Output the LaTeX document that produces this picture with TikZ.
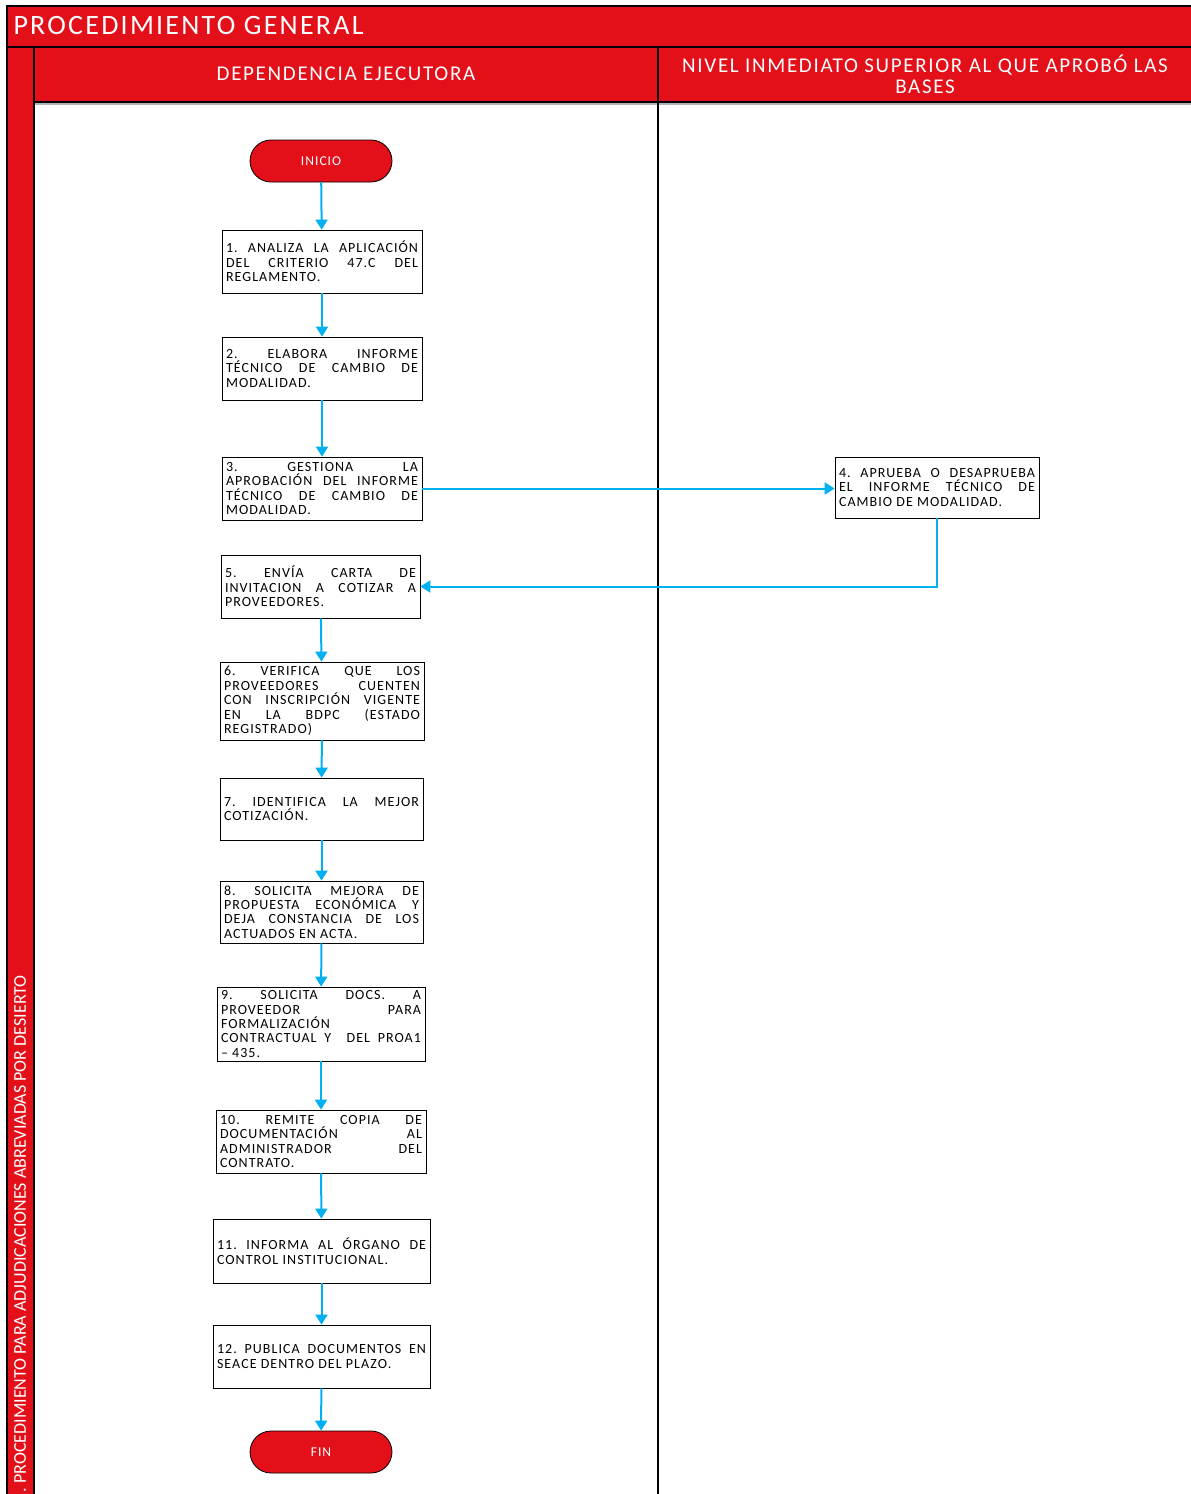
\documentclass[tikz,border=0pt]{standalone}
\usepackage{fontspec}
\setmainfont{Carlito}
\newfontfamily\boxfont[LetterSpace=7.5]{Carlito}
\newfontfamily\headfont[LetterSpace=8]{Carlito}
\usetikzlibrary{arrows.meta}
\definecolor{LaneClr}{HTML}{E3101A}
\definecolor{FlowClr}{HTML}{00B0F0}
\hyphenpenalty=10000
\exhyphenpenalty=10000
\tolerance=10000
\hbadness=10000
\frenchspacing

\begin{document}
\begin{tikzpicture}[x=1pt,y=-1pt,
  stepbox/.style={draw,line width=0.8pt,fill=white,inner xsep=4pt,inner ysep=2pt,
    align=justify,font=\boxfont\fontsize{14}{14.4}\selectfont},
  endbox/.style={draw=black,line width=0.8pt,fill=LaneClr,rounded corners=21pt,
    minimum width=142pt,minimum height=42pt,text=white,
    font=\boxfont\fontsize{13.5}{15}\selectfont},
  headtext/.style={text=white,font=\headfont\fontsize{21}{21}\selectfont},
  flow/.style={FlowClr,line width=2pt,-{Triangle[length=10pt,width=12pt]}}]
\useasboundingbox (0,0) rectangle (1191,1494);

% lanes
\fill[LaneClr] (7,6) rectangle (1191,47);
\fill[LaneClr] (7,47) rectangle (34,1494);
\fill[LaneClr] (34,47) rectangle (1191,102);
\draw[gray!60,line width=2pt] (35,104) -- (1191,104);
\draw[line width=1.5pt] (1191,6) -- (7,6) -- (7,1494);
\draw[line width=1.5pt] (7,47) -- (1191,47);
\draw[line width=1.5pt] (34,47) -- (34,1494);
\draw[line width=1.5pt] (34,102) -- (1191,102);
\draw[line width=1.5pt] (658,47) -- (658,1494);

\node[headtext,anchor=west,font=\headfont\fontsize{28}{28}\selectfont] (title) at (10,26) {PROCEDIMIENTO GENERAL};
\node[headtext] (laneA) at (346,74) {DEPENDENCIA EJECUTORA};
\node[headtext,align=center] (laneB) at (925,74) {NIVEL INMEDIATO SUPERIOR AL QUE APROBÓ LAS\\BASES};
\begin{scope}
\clip (7,47) rectangle (34,1494);
\node[text=white,rotate=90,anchor=east,inner sep=0pt,font=\fontsize{18}{20}\selectfont] (proc) at (20,975)
  {. PROCEDIMIENTO PARA ADJUDICACIONES ABREVIADAS POR DESIERTO};
\end{scope}

% steps
\node[endbox] (ini) at (321,161) {INICIO};
\node[stepbox,text width=192pt,minimum height=63pt] (b1) at (322,261.5)
  {1. ANALIZA LA APLICACIÓN\linebreak DEL CRITERIO 47.C DEL\linebreak REGLAMENTO.};
\node[stepbox,text width=192pt,minimum height=63pt] (b2) at (322,368.5)
  {2. ELABORA INFORME\linebreak TÉCNICO DE CAMBIO DE\linebreak MODALIDAD.};
\node[stepbox,text width=192pt,minimum height=63pt] (b3) at (322,488.5)
  {3. GESTIONA LA\linebreak APROBACIÓN DEL INFORME\linebreak TÉCNICO DE CAMBIO DE\linebreak MODALIDAD.};
\node[stepbox,text width=196pt,minimum height=61pt] (b4) at (937,487.5)
  {4. APRUEBA O DESAPRUEBA\linebreak EL INFORME TÉCNICO DE\linebreak CAMBIO DE MODALIDAD.};
\node[stepbox,text width=191pt,minimum height=63pt] (b5) at (320.5,586.5)
  {5. ENVÍA CARTA DE\linebreak INVITACION A COTIZAR A\linebreak PROVEEDORES.};
\node[stepbox,text width=196pt,minimum height=78pt] (b6) at (322,701)
  {6. VERIFICA QUE LOS\linebreak PROVEEDORES CUENTEN\linebreak CON INSCRIPCIÓN VIGENTE\linebreak EN LA BDPC (ESTADO\linebreak REGISTRADO)};
\node[stepbox,text width=195pt,minimum height=62pt] (b7) at (321.5,809)
  {7. IDENTIFICA LA MEJOR\linebreak COTIZACIÓN.};
\node[stepbox,text width=195pt,minimum height=62pt] (b8) at (321.5,912)
  {8. SOLICITA MEJORA DE\linebreak PROPUESTA ECONÓMICA Y\linebreak DEJA CONSTANCIA DE LOS\linebreak ACTUADOS EN ACTA.};
\node[stepbox,text width=200pt,minimum height=74pt] (b9) at (321,1024)
  {9. SOLICITA DOCS. A\linebreak PROVEEDOR PARA\linebreak FORMALIZACIÓN\linebreak CONTRACTUAL Y\ \ DEL PROA1\linebreak – 435.};
\node[stepbox,text width=202pt,minimum height=63pt] (b10) at (321,1141.5)
  {10. REMITE COPIA DE\linebreak DOCUMENTACIÓN AL\linebreak ADMINISTRADOR DEL\linebreak CONTRATO.};
\node[stepbox,text width=209pt,minimum height=64pt] (b11) at (321.5,1251)
  {11. INFORMA AL ÓRGANO DE\linebreak CONTROL INSTITUCIONAL.};
\node[stepbox,text width=209pt,minimum height=63pt] (b12) at (321.5,1356.5)
  {12. PUBLICA DOCUMENTOS EN\linebreak SEACE DENTRO DEL PLAZO.};
\node[endbox] (fin) at (321,1452) {FIN};

% connectors
\draw[flow] (ini) -- (b1);
\draw[flow] (b1) -- (b2);
\draw[flow] (b2) -- (b3);
\draw[flow] (b3.east) -- (b3.east -| b4.west);
\draw[flow] (b4.south) |- (b5.east);
\draw[flow] (b5) -- (b6);
\draw[flow] (b6) -- (b7);
\draw[flow] (b7) -- (b8);
\draw[flow] (b8) -- (b9);
\draw[flow] (b9) -- (b10);
\draw[flow] (b10) -- (b11);
\draw[flow] (b11) -- (b12);
\draw[flow] (b12) -- (fin);

\end{tikzpicture}
\end{document}
